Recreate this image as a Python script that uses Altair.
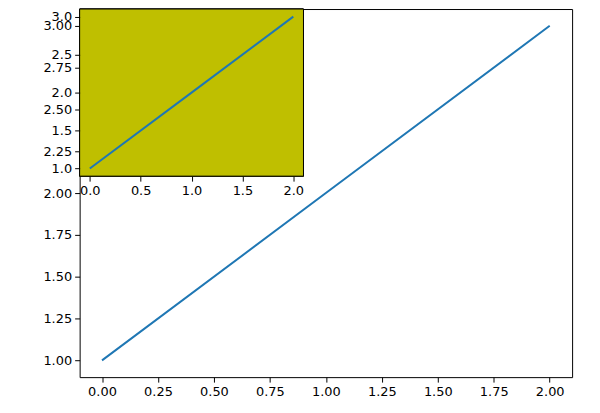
import altair as alt
import pandas as pd

# data
x_vals = [0, 1, 2]
y_vals = [1, 2, 3]

main_x_ticks = [0, 0.25, 0.5, 0.75, 1.0, 1.25, 1.5, 1.75, 2.0]
main_y_ticks = [1, 1.25, 1.5, 1.75, 2.0, 2.25, 2.5, 2.75, 3.0]
inset_x_ticks = [0, 0.5, 1.0, 1.5, 2.0]
inset_y_ticks = [1, 1.5, 2.0, 2.5, 3.0]

df = pd.DataFrame({"x": x_vals, "y": y_vals})

W, H = 495, 370
IW, IH = 225, 168

FONT = "DejaVu Sans"
axis_common = dict(
    grid=False, domain=False, tickColor="black", tickSize=5, tickWidth=1,
    labelColor="black", labelFont=FONT, labelFontSize=13, labelPadding=3,
    title=None,
)

main = alt.Chart(df).mark_line(color="#1f77b4", strokeWidth=2).encode(
    x=alt.X("x:Q", scale=alt.Scale(domain=[-0.1, 2.1], nice=False, zero=False),
            axis=alt.Axis(values=main_x_ticks, format=".2f", orient="bottom", **axis_common)),
    y=alt.Y("y:Q", scale=alt.Scale(domain=[0.9, 3.1], nice=False, zero=False),
            axis=alt.Axis(values=main_y_ticks, format=".2f", orient="left", **axis_common)),
)

bg = alt.Chart(df).mark_rect(fill="#bfbf00", stroke="black", strokeWidth=1).encode(
    x=alt.value(0), x2=alt.value(IW), y=alt.value(0), y2=alt.value(IH)
)

inset = alt.Chart(df).mark_line(color="#1f77b4", strokeWidth=2).encode(
    x=alt.X("x:Q", scale=alt.Scale(domain=[-0.1, 2.1], nice=False, zero=False, range=[0, IW]),
            axis=alt.Axis(values=inset_x_ticks, format=".1f", orient="bottom",
                          offset=-(H - IH), zindex=1, **axis_common)),
    y=alt.Y("y:Q", scale=alt.Scale(domain=[0.9, 3.1], nice=False, zero=False, range=[IH, 0]),
            axis=alt.Axis(values=inset_y_ticks, format=".1f", orient="left", zindex=1, **axis_common)),
)

chart = alt.layer(main, bg, inset).resolve_scale(
    x="independent", y="independent"
).resolve_axis(x="independent", y="independent").properties(
    width=W, height=H,
    autosize=alt.AutoSizeParams(type="none"),
    padding={"left": 72, "top": 0, "right": 20, "bottom": 30},
).configure_view(stroke="black", strokeWidth=1)

chart.save("out.html", embed_options={"renderer": "svg", "actions": False})
